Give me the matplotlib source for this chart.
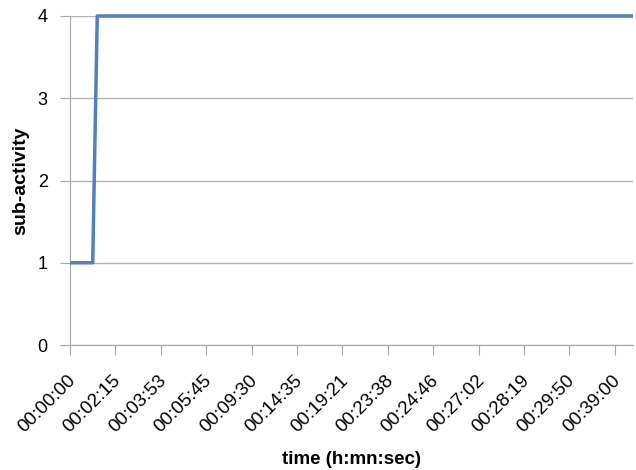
import matplotlib
matplotlib.use("Agg")
import matplotlib.pyplot as plt
import matplotlib.transforms as mtransforms
from matplotlib.ticker import MultipleLocator

# sub-activity level per logged sample (category axis, one label every 10 samples)
n_low = 6
n_high = 119
activity = [1] * n_low + [4] * n_high

tick_labels = ["00:00:00", "00:02:15", "00:03:53", "00:05:45", "00:09:30",
               "00:14:35", "00:19:21", "00:23:38", "00:24:46", "00:27:02",
               "00:28:19", "00:29:50", "00:39:00"]
label_step = 10

plt.rcParams["font.family"] = ["Liberation Sans", "DejaVu Sans"]

fig = plt.figure(figsize=(6.36, 4.70), dpi=100)
ax = fig.add_axes([70 / 636, 1 - 345 / 470, 563 / 636, 329 / 470])

x = list(range(len(activity)))
ax.plot(x, activity, color="#4F81BD", linewidth=2.5, solid_capstyle="butt",
        clip_on=False, zorder=3)

ax.set_xlim(0, len(activity) - 1)
ax.set_ylim(0, 4)
ax.yaxis.set_major_locator(MultipleLocator(1))
ax.set_xticks(range(0, len(tick_labels) * label_step, label_step))
ax.set_xticklabels(tick_labels, rotation=45, ha="right", va="top",
                   rotation_mode="default", fontsize=13.5)
ax.tick_params(axis="y", labelsize=13, length=7, color="#A6A6A6", pad=9)
ax.tick_params(axis="x", length=7, color="#A6A6A6", pad=0)

# rotated labels: box's top-right corner sits a little right of and below each tick
shift = mtransforms.ScaledTranslation(0.09, -0.27, fig.dpi_scale_trans)
for tick in ax.xaxis.get_major_ticks():
    tick.label1.set_transform(ax.get_xaxis_transform() + shift)

ax.grid(axis="y", color="#B3B3B3", linewidth=1)
ax.set_axisbelow(True)
for side in ["top", "right"]:
    ax.spines[side].set_visible(False)
ax.spines["left"].set_color("#A6A6A6")
ax.spines["bottom"].set_color("#A6A6A6")

ax.set_ylabel("sub-activity", fontsize=14, fontweight="bold", labelpad=6)
ax.set_xlabel("time (h:mn:sec)", fontsize=13.5, fontweight="bold")
ax.xaxis.set_label_coords(0.5, -(459 - 345) / 329, transform=ax.transAxes)
ax.xaxis.label.set_va("center")

fig.savefig("out.png", dpi=100)
